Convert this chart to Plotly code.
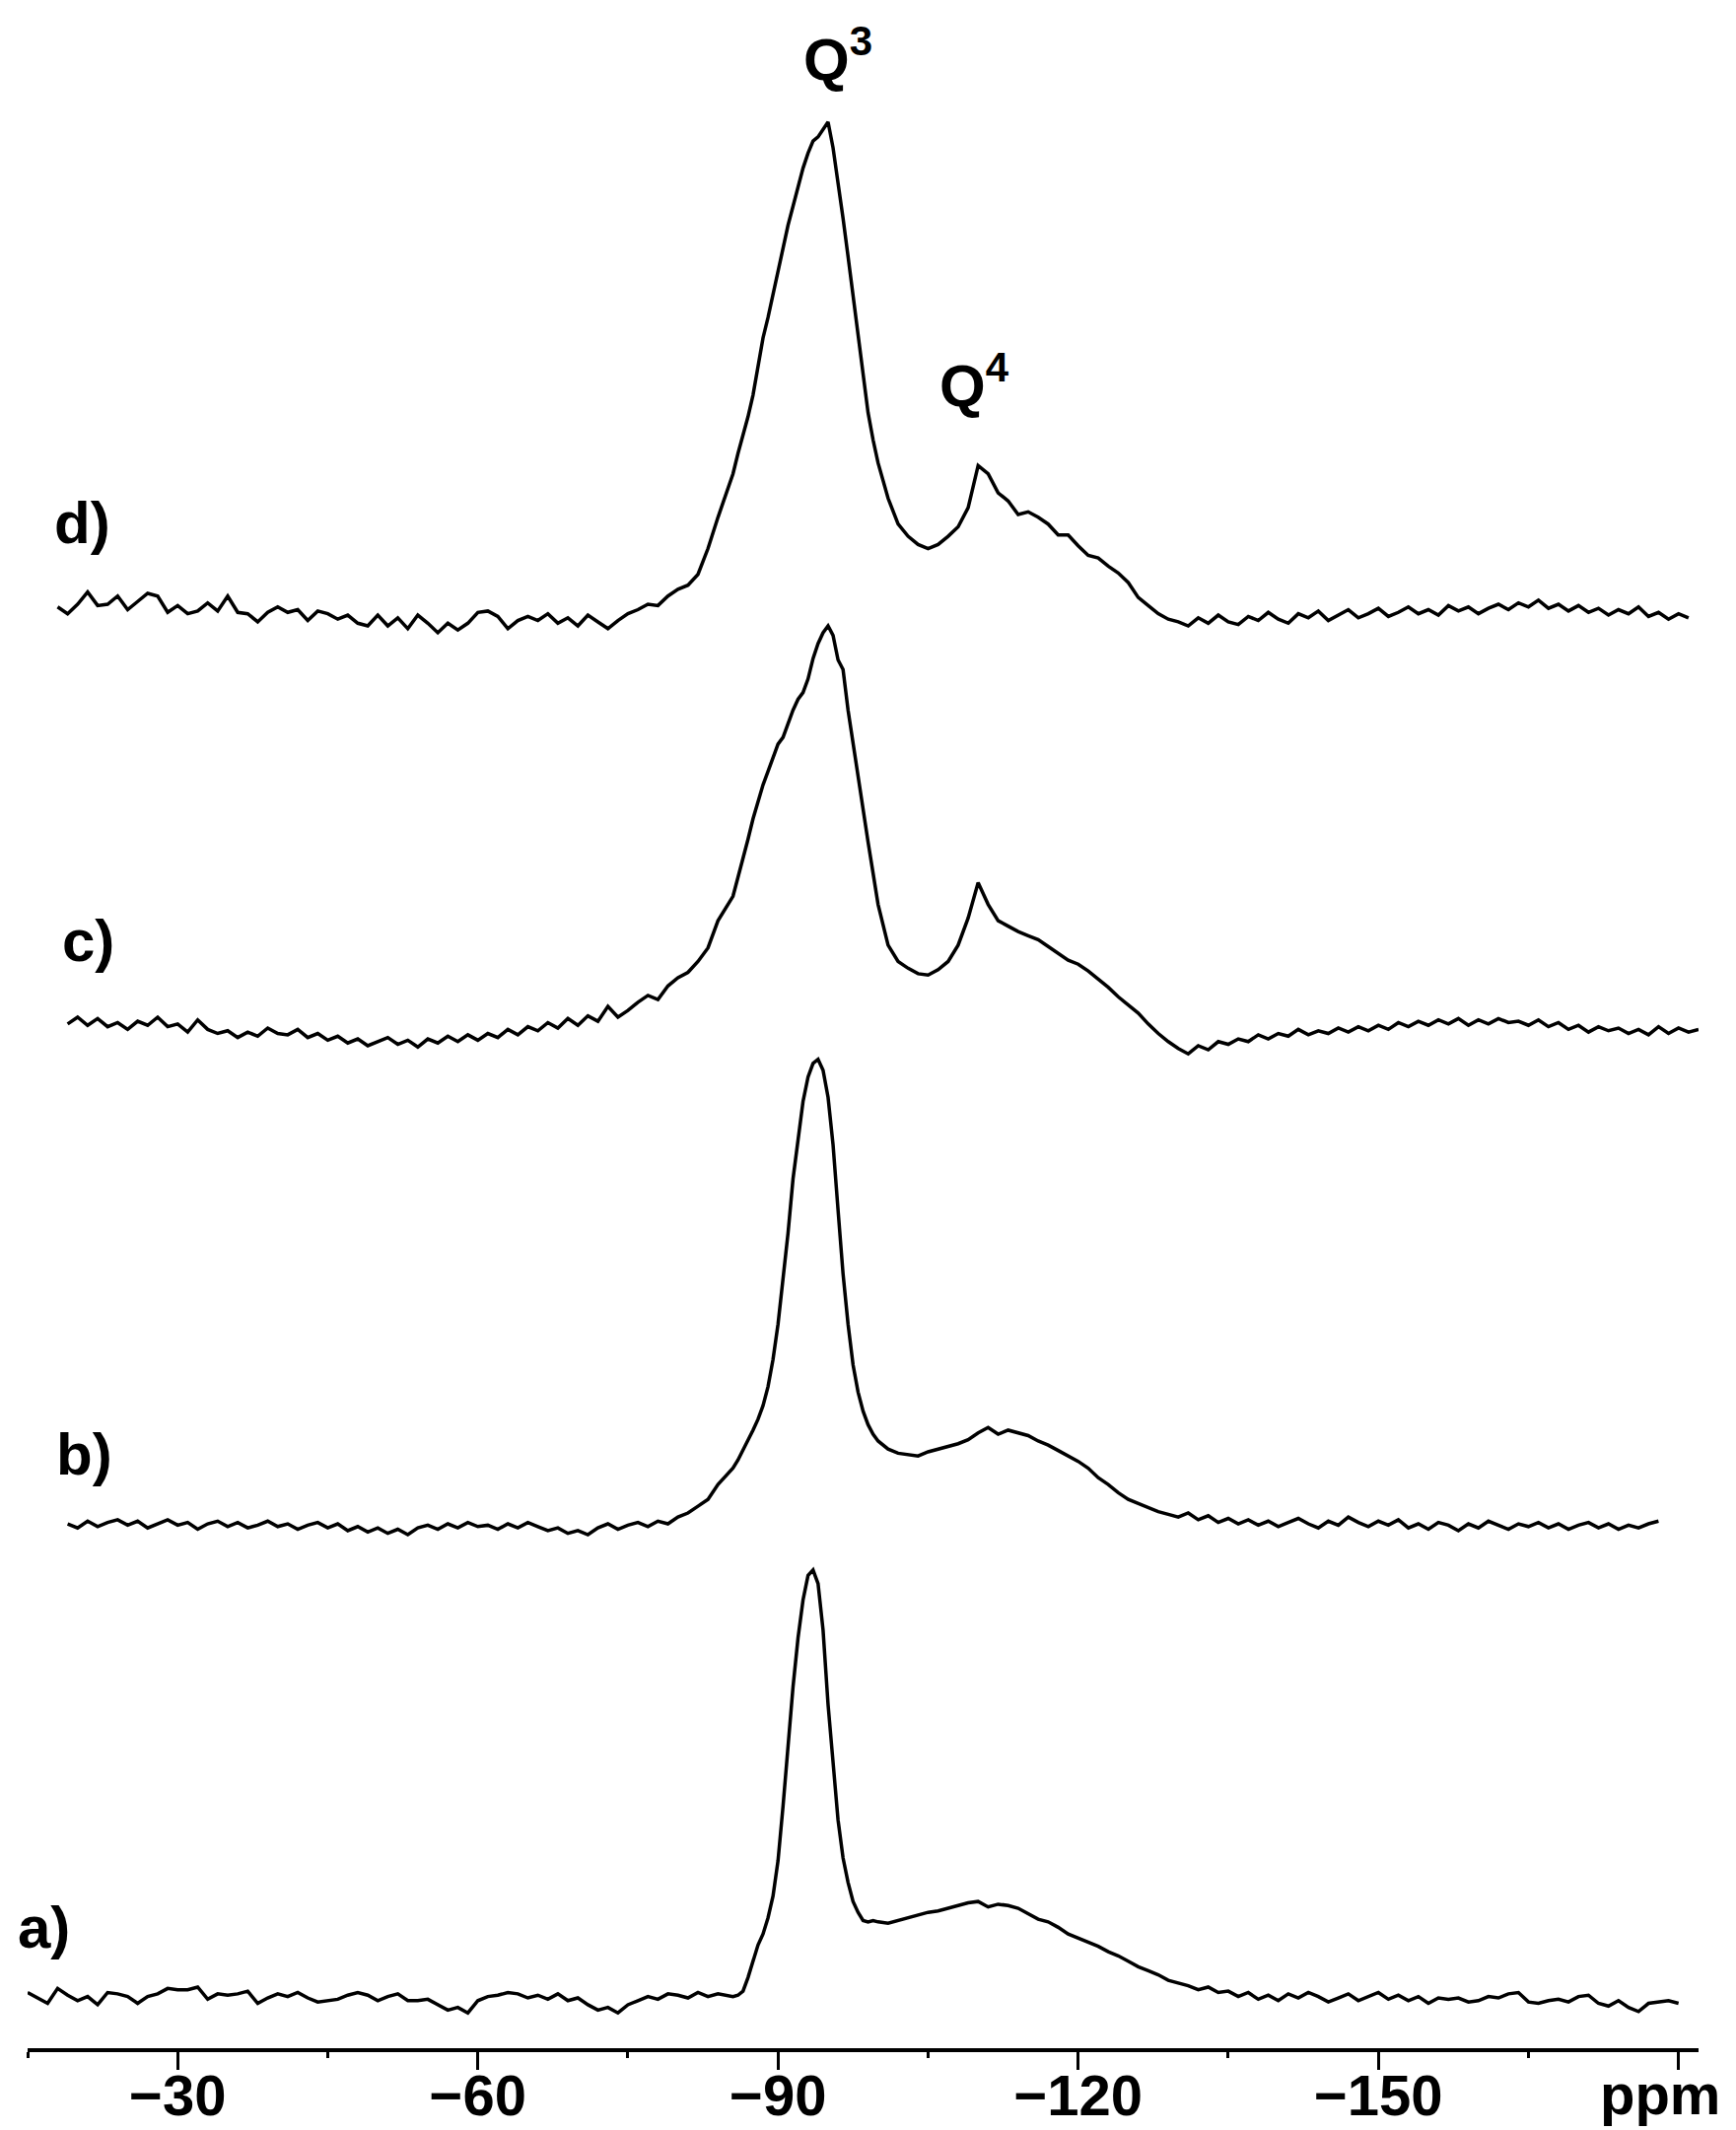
import plotly.graph_objects as go

# ppm sampling grid (1 ppm, finer 0.5 ppm around the Q3 peak)
ppm_left = list(range(-15, -86, -1))
ppm_mid = [-85.5 - 0.5 * i for i in range(30)]
ppm_right = list(range(-101, -183, -1))
ppm = ppm_left + ppm_mid + ppm_right

# intensities (arbitrary units, relative to each spectrum's baseline)
a_left = [3, -1, -5, 6, 1, -3, 0, -6, 3, 2,
          0, -5, 0, 2, 6, 5, 5, 7, -2, 2,
          1, 2, 4, -5, -1, 2, 0, 3, -1, -4,
          -3, -2, 1, 3, 1, -3, 0, 2, -3, -3,
          -2, -6, -10, -8, -12, -3, 0, 1, 3, 2,
          -1, 1, -2, 2, -3, -1, -6, -10, -8, -12,
          -6, -3, 0, -2, 2, 1, -1, 3, 0, 2, 1]
a_mid = [0, 1, 4, 14, 26, 38, 46, 58, 74, 100,
         140, 184, 228, 264, 292, 310, 314, 304, 270, 215,
         170, 130, 102, 84, 70, 62, 56, 55, 56, 55]
a_right = [54, 56, 58, 60, 62, 63, 65, 67, 69, 70,
           66, 68, 67, 65, 61, 57, 55, 51, 46, 43,
           40, 37, 33, 30, 26, 22, 19, 16, 12, 10,
           8, 5, 7, 3, 4, 0, 3, -2, 1, -3,
           2, -1, 3, 0, -4, -1, 2, -3, 0, 3,
           -2, 1, -3, 0, -5, -1, -2, -1, -4, -3,
           0, -1, 2, 3, -4, -5, -3, -2, -4, 0,
           1, -5, -7, -3, -8, -11, -5, -4, -3, -5,
           None, None]

b_left = [None, None, None, None, 1, -2, 3, -1, 2, 4,
          0, 3, -2, 1, 4, 0, 2, -3, 1, 3,
          -1, 2, -2, 0, 3, -1, 1, -3, 0, 2,
          -2, 1, -4, -1, -5, -2, -6, -3, -7, -2,
          0, -3, 1, -2, 2, -1, 0, -3, 1, -2,
          2, -1, -4, -2, -6, -4, -7, -2, 1, -3,
          0, 2, -1, 3, 1, 6, 9, 14, 19, 30, 38]
b_mid = [42, 48, 55, 62, 70, 78, 88, 102, 122, 148,
         180, 215, 255, 285, 312, 330, 340, 343, 335, 315,
         280, 232, 185, 148, 118, 98, 84, 74, 67, 62]
b_right = [56, 53, 52, 51, 54, 56, 58, 60, 63, 68,
           72, 67, 70, 68, 66, 62, 59, 55, 51, 47,
           42, 35, 30, 24, 19, 16, 13, 10, 8, 6,
           9, 4, 7, 2, 5, 1, 4, 0, 3, -1,
           2, 5, 1, -2, 3, 0, 6, 2, -1, 3,
           0, 4, -2, 1, -3, 2, 0, -4, 1, -2,
           3, 0, -3, 1, -1, 2, -2, 1, -3, 0,
           2, -2, 1, -3, 0, -2, 1, 3, None, None,
           None, None]

c_left = [None, None, None, None, 4, 9, 3, 8, 2, 5,
          0, 6, 3, 9, 2, 4, -2, 7, 0, -3,
          -1, -6, -2, -5, 1, -3, -4, 0, -6, -3,
          -8, -5, -10, -7, -12, -9, -6, -11, -8, -13,
          -7, -10, -5, -9, -4, -8, -3, -6, 0, -4,
          2, -1, 5, 1, 8, 3, 10, 6, 17, 9,
          14, 20, 25, 22, 32, 38, 42, 50, 60, 80, 92]
c_mid = [98, 112, 125, 140, 155, 168, 180, 190, 200, 210,
         215, 225, 235, 243, 248, 258, 273, 284, 292, 297,
         290, 272, 265, 235, 210, 185, 162, 138, 115, 92]
c_right = [62, 50, 45, 41, 40, 44, 50, 62, 82, 108,
           92, 80, 76, 72, 69, 66, 61, 56, 51, 48,
           43, 37, 31, 24, 18, 12, 4, -3, -9, -14,
           -18, -12, -15, -9, -11, -7, -9, -4, -7, -3,
           -5, 0, -4, -1, -3, 1, -2, 2, -1, 3,
           0, 5, 2, 6, 3, 7, 4, 8, 3, 7,
           4, 8, 5, 6, 3, 7, 2, 5, 0, 3,
           -2, 2, -1, 1, -3, 0, -4, 2, -3, 1,
           -2, 0]

d_left = [None, None, None, 2, -3, 4, 13, 3, 4, 10,
          0, 6, 12, 10, -2, 3, -3, -1, 5, -1,
          10, -2, -3, -9, -2, 2, -2, 0, -8, -1,
          -3, -7, -4, -10, -12, -4, -12, -6, -14, -4,
          -10, -17, -10, -15, -10, -2, -1, -5, -14, -8,
          -5, -8, -3, -10, -6, -12, -4, -9, -14, -8,
          -3, 0, 4, 3, 10, 15, 18, 26, 45, 68, 90]
d_mid = [100, 115, 128, 142, 158, 180, 200, 215, 232, 248,
         266, 283, 297, 312, 325, 336, 345, 348, 354, 359,
         340, 315, 288, 260, 230, 200, 170, 145, 125, 108]
d_right = [82, 63, 54, 48, 45, 48, 54, 61, 75, 106,
           100, 86, 80, 70, 72, 68, 63, 55, 55, 47,
           40, 38, 32, 27, 20, 9, 3, -3, -7, -9,
           -12, -6, -10, -4, -9, -11, -5, -8, -2, -7,
           -10, -3, -6, -1, -8, -4, 0, -6, -3, 1,
           -5, -2, 2, -3, 0, -4, 3, -1, 2, -3,
           1, 4, 0, 5, 2, 7, 1, 4, -1, 3,
           -2, 1, -4, 0, -3, 2, -5, -2, -7, -3,
           -6, None]

spectra = {
    "a)": a_left + a_mid + a_right,
    "b)": b_left + b_mid + b_right,
    "c)": c_left + c_mid + c_right,
    "d)": d_left + d_mid + d_right,
}
# vertical stacking offsets of each spectrum
offsets = {"a)": 38, "b)": 385, "c)": 750, "d)": 1059}
label_pos = {"a)": (-16.6, 89), "b)": (-20.7, 437), "c)": (-21.1, 815), "d)": (-20.5, 1123)}

tick_vals = [-30, -60, -90, -120, -150, -180]
tick_text = ["\u221230", "\u221260", "\u221290", "\u2212120", "\u2212150", ""]
minor_vals = [-15, -45, -75, -105, -135, -165]
unit_label = "ppm"
unit_pos = -178.2

FONT = "Liberation Sans, Arial, sans-serif"

fig = go.Figure()
for name, vals in spectra.items():
    off = offsets[name]
    y = [None if v is None else v + off for v in vals]
    fig.add_trace(go.Scatter(x=ppm, y=y, mode="lines", name=name,
                             line=dict(color="black", width=3.5),
                             connectgaps=False, showlegend=False))

annotations = []
for name, (lx, ly) in label_pos.items():
    annotations.append(dict(x=lx, y=ly, xref="x", yref="y", text="<b>%s</b>" % name,
                            showarrow=False, font=dict(family=FONT, size=60, color="black"),
                            xanchor="center", yanchor="middle"))
annotations.append(dict(x=-96.0, y=1467, xref="x", yref="y", text="<b>Q<sup>3</sup></b>",
                        showarrow=False, font=dict(family=FONT, size=60, color="black"),
                        xanchor="center", yanchor="middle"))
annotations.append(dict(x=-109.6, y=1227, xref="x", yref="y", text="<b>Q<sup>4</sup></b>",
                        showarrow=False, font=dict(family=FONT, size=60, color="black"),
                        xanchor="center", yanchor="middle"))
annotations.append(dict(x=unit_pos, y=0, xref="x", yref="paper", yshift=-46,
                        text="<b>%s</b>" % unit_label, showarrow=False,
                        font=dict(family=FONT, size=58, color="black"),
                        xanchor="center", yanchor="middle"))

fig.update_layout(
    width=1761, height=2161,
    margin=dict(l=20, r=46, t=0, b=91),
    paper_bgcolor="white", plot_bgcolor="white",
    annotations=annotations,
    xaxis=dict(range=[-15, -182], showgrid=False, zeroline=False,
               showline=True, linecolor="black", linewidth=4,
               ticks="outside", ticklen=18, tickwidth=3, tickcolor="black",
               tickmode="array", tickvals=tick_vals,
               ticktext=["<b>%s</b>" % t if t else "" for t in tick_text],
               ticklabelstandoff=-24,
               tickfont=dict(family=FONT, size=58, color="black"),
               minor=dict(tickmode="array", tickvals=minor_vals, ticks="outside",
                          ticklen=6, tickwidth=3, tickcolor="black", showgrid=False)),
    yaxis=dict(range=[0, 1502], visible=False, showgrid=False, zeroline=False),
)

fig.write_html("out.html")
